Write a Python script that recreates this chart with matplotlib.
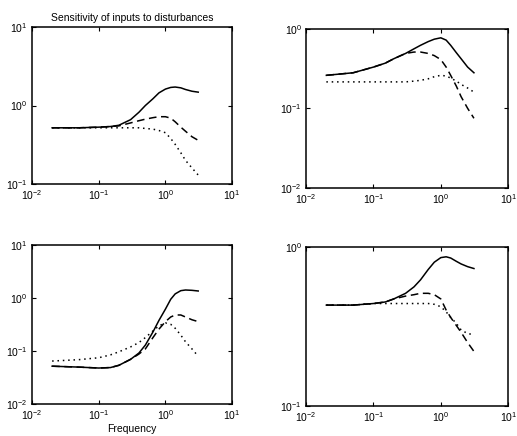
import matplotlib
matplotlib.use("Agg")
import matplotlib.pyplot as plt
from matplotlib.ticker import LogLocator, NullLocator

plt.rcParams['font.family'] = ['Liberation Sans', 'DejaVu Sans']
plt.rcParams['mathtext.fontset'] = 'custom'
plt.rcParams['mathtext.rm'] = 'Liberation Sans'
plt.rcParams['font.size'] = 7.5

# frequency grid (rad/s)
freq = [0.02, 0.05, 0.1, 0.15, 0.2, 0.3, 0.4, 0.5, 0.65, 0.8, 1.0, 1.2, 1.4, 1.7, 2.0, 2.5, 3.1]

# top left
tl_solid = [0.52, 0.52, 0.53, 0.54, 0.56, 0.66, 0.82, 1.0, 1.22, 1.45, 1.62, 1.70, 1.72, 1.68, 1.60, 1.52, 1.48]
tl_dash = [0.52, 0.52, 0.53, 0.54, 0.55, 0.60, 0.64, 0.67, 0.70, 0.72, 0.72, 0.69, 0.62, 0.53, 0.47, 0.40, 0.36]
tl_dot = [0.52, 0.52, 0.52, 0.52, 0.52, 0.52, 0.52, 0.51, 0.50, 0.48, 0.45, 0.38, 0.32, 0.25, 0.20, 0.16, 0.13]

# top right
tr_solid = [0.26, 0.28, 0.33, 0.37, 0.42, 0.49, 0.56, 0.62, 0.69, 0.74, 0.77, 0.72, 0.62, 0.50, 0.42, 0.33, 0.28]
tr_dash = [0.26, 0.28, 0.33, 0.37, 0.42, 0.49, 0.51, 0.51, 0.49, 0.46, 0.41, 0.33, 0.26, 0.19, 0.14, 0.10, 0.075]
tr_dot = [0.215, 0.215, 0.215, 0.215, 0.215, 0.215, 0.22, 0.225, 0.235, 0.25, 0.26, 0.255, 0.24, 0.22, 0.20, 0.18, 0.16]

# bottom left
bl_solid = [0.052, 0.050, 0.048, 0.049, 0.054, 0.070, 0.092, 0.13, 0.23, 0.38, 0.62, 0.95, 1.2, 1.38, 1.42, 1.40, 1.36]
bl_dash = [0.052, 0.050, 0.048, 0.049, 0.054, 0.070, 0.088, 0.11, 0.18, 0.26, 0.36, 0.44, 0.48, 0.48, 0.44, 0.39, 0.36]
bl_dot = [0.065, 0.069, 0.075, 0.085, 0.097, 0.12, 0.145, 0.18, 0.24, 0.30, 0.34, 0.32, 0.27, 0.20, 0.15, 0.11, 0.08]

# bottom right
br_solid = [0.43, 0.43, 0.44, 0.45, 0.47, 0.51, 0.56, 0.62, 0.72, 0.80, 0.855, 0.865, 0.85, 0.81, 0.78, 0.75, 0.73]
br_dash = [0.43, 0.43, 0.44, 0.45, 0.47, 0.49, 0.50, 0.51, 0.51, 0.50, 0.47, 0.40, 0.36, 0.32, 0.29, 0.25, 0.22]
br_dot = [0.43, 0.43, 0.44, 0.44, 0.44, 0.44, 0.44, 0.44, 0.44, 0.435, 0.42, 0.39, 0.36, 0.33, 0.30, 0.285, 0.28]

panels = [
    ([0.062, 0.578, 0.387, 0.360], (0.1, 10), tl_solid, tl_dash, tl_dot),
    ([0.592, 0.569, 0.391, 0.365], (0.01, 1), tr_solid, tr_dash, tr_dot),
    ([0.062, 0.073, 0.387, 0.365], (0.01, 10), bl_solid, bl_dash, bl_dot),
    ([0.592, 0.069, 0.391, 0.365], (0.1, 1), br_solid, br_dash, br_dot),
]

fig = plt.figure(figsize=(5.17, 4.36), dpi=100)
axes = []
for pos, ylim, s, d, o in panels:
    ax = fig.add_axes(pos)
    ax.loglog(freq, s, color='black', lw=1.1, ls='-')
    ax.loglog(freq, d, color='black', lw=1.1, ls=(0, (5, 3)))
    ax.loglog(freq, o, color='black', lw=1.1, ls=(0, (1, 2.5)))
    ax.set_xlim(0.01, 10)
    ax.set_ylim(*ylim)
    ax.xaxis.set_major_locator(LogLocator(base=10, numticks=10))
    ax.yaxis.set_major_locator(LogLocator(base=10, numticks=10))
    ax.xaxis.set_minor_locator(NullLocator())
    ax.yaxis.set_minor_locator(NullLocator())
    ax.tick_params(direction='in', top=True, right=True, length=3, width=0.8, labelsize=7.5, pad=3)
    for sp in ax.spines.values():
        sp.set_linewidth(1.1)
    axes.append(ax)

axes[0].set_title('Sensitivity of inputs to disturbances', fontsize=7.5, pad=4)
axes[2].set_xlabel('Frequency', fontsize=7.5, labelpad=1)

fig.savefig('out.png', dpi=100)
